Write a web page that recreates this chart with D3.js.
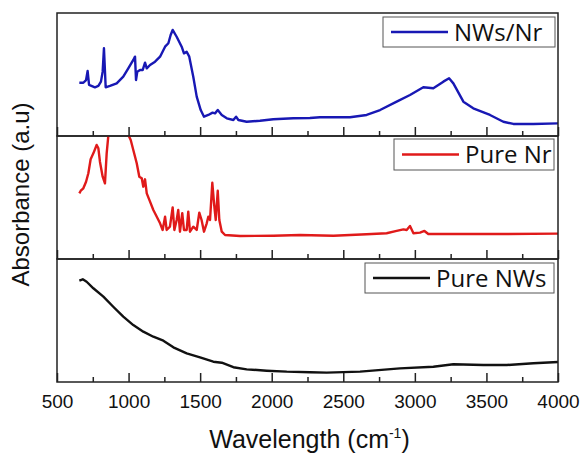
<!DOCTYPE html>
<html>
<head>
<meta charset="utf-8">
<script src="https://cdn.jsdelivr.net/npm/d3@7"></script>
<style>
body { margin: 0; background: #fff; }
text { font-family: "Liberation Sans", Arial, sans-serif; fill: #111; }
</style>
</head>
<body>
<div id="chart"></div>
<script>
// wavenumber (cm-1) / absorbance (arbitrary units, 0 = panel bottom, 100 = panel top)
var nwsNrWave = [656, 684, 703, 714, 724, 765, 789, 807, 819, 828, 840, 870, 917, 963, 998, 1033, 1045, 1052, 1061, 1080, 1099, 1115, 1127, 1150, 1185, 1220, 1255, 1278, 1294, 1308, 1336, 1371, 1387, 1406, 1424, 1452, 1476, 1504, 1527, 1557, 1587, 1604, 1623, 1651, 1686, 1732, 1751, 1767, 1825, 1918, 2011, 2151, 2267, 2337, 2547, 2663, 2757, 2873, 2966, 3059, 3129, 3199, 3239, 3269, 3339, 3408, 3525, 3618, 3688, 3828, 4000];
var nwsNrAbs = [43.3, 43.3, 45.5, 52.8, 41.5, 39.6, 40.7, 44.2, 52.3, 71.3, 39.6, 40.7, 42.8, 48.2, 55, 61.8, 64.5, 45.5, 52.3, 53.7, 53.7, 59.6, 55, 57.7, 60.4, 64.5, 72.6, 75.4, 82.1, 86.2, 80.7, 72.6, 67.2, 68.5, 64.5, 48.2, 32, 21.1, 15.7, 17.1, 19, 18.4, 21.1, 17.1, 14.4, 13, 15.7, 13, 11.6, 12.4, 13.6, 14.4, 14.6, 15.2, 15.2, 17.1, 21.1, 27.9, 33.3, 39.6, 38.8, 44.2, 46.9, 42.8, 27.9, 22.5, 17.1, 11.6, 9.8, 9.8, 10.3];

var pureNrWave = [656, 666, 684, 703, 719, 735, 754, 777, 789, 800, 819, 835, 847, 859, 900, 960, 998, 1015, 1033, 1057, 1075, 1092, 1103, 1115, 1127, 1150, 1173, 1197, 1220, 1238, 1255, 1266, 1289, 1308, 1320, 1336, 1347, 1359, 1375, 1387, 1406, 1417, 1429, 1452, 1476, 1494, 1510, 1527, 1546, 1557, 1569, 1585, 1597, 1609, 1623, 1634, 1651, 1674, 1779, 2011, 2198, 2431, 2663, 2803, 2873, 2920, 2943, 2966, 2990, 3036, 3067, 3094, 3246, 3595, 4000];
var pureNrAbs = [53.4, 55.5, 57.5, 62.8, 69.7, 81.1, 85.9, 92.7, 90, 79.1, 66.9, 61.5, 85.9, 100.8, 130, 130, 101, 96.7, 88.6, 77.8, 66.9, 65.6, 58.8, 64.8, 53.4, 46.6, 39.8, 34.4, 29, 23.6, 34.4, 23.6, 26.3, 42, 23.6, 31.7, 39.8, 22.2, 37.2, 23.6, 23.6, 38.5, 22.2, 26.3, 23.6, 37.7, 31.7, 22.2, 29, 34.4, 31.7, 62, 45.3, 31.7, 55.5, 31.7, 22.2, 19.5, 18.7, 18.9, 19.5, 18.9, 20.1, 20.9, 22.8, 24.1, 23.6, 26.8, 20.9, 21.4, 22.8, 20.3, 20.3, 20.3, 20.6];

var pureNwsWave = [656, 680, 707, 754, 824, 893, 963, 1033, 1103, 1173, 1243, 1313, 1406, 1499, 1592, 1651, 1732, 1825, 1965, 2105, 2268, 2384, 2617, 2896, 3129, 3269, 3478, 3642, 3828, 4000];
var pureNwsAbs = [82.4, 83.5, 81.5, 76.2, 69.4, 61.2, 53.1, 46.3, 40.9, 36.8, 33.6, 28.2, 23.3, 20.1, 16.5, 15.7, 12, 10.3, 9.2, 8.4, 7.9, 7.6, 8.4, 11.1, 12.4, 14.4, 13.8, 13.8, 15.2, 16.3];

var seriesNames = ["NWs/Nr", "Pure Nr", "Pure NWs"];
var seriesColors = ["#1818b4", "#e01a1a", "#111111"];
var majorTicks = [500, 1000, 1500, 2000, 2500, 3000, 3500, 4000];
var minorTicks = [750, 1250, 1750, 2250, 2750, 3250, 3750];

function drawChart() {
	const W = 583, H = 458;
	const left = 57, right = 558, plotTop = 13, panelH = 123;

	const svg = d3.select("#chart").append("svg")
		.attr("width", W)
		.attr("height", H);

	const x = d3.scaleLinear().domain([500, 4000]).range([left, right]);

	const panels = [
		{ wave: nwsNrWave, abs: nwsNrAbs, legend: [383, 17, 172, 30] },
		{ wave: pureNrWave, abs: pureNrAbs, legend: [394, 139, 160, 31] },
		{ wave: pureNwsWave, abs: pureNwsAbs, legend: [365, 263, 189, 30] }
	];

	panels.forEach(function (p, i) {
		const y0 = plotTop + i * panelH;
		const y = d3.scaleLinear().domain([0, 100]).range([y0 + panelH, y0]);
		const data = p.wave.map((w, j) => ({ w: w, a: p.abs[j] }));

		svg.append("clipPath").attr("id", "clip" + i)
			.append("rect")
			.attr("x", left).attr("y", y0)
			.attr("width", right - left).attr("height", panelH);

		const line = d3.line()
			.x(d => x(d.w))
			.y(d => y(d.a));

		svg.append("path")
			.datum(data)
			.attr("clip-path", "url(#clip" + i + ")")
			.attr("d", line)
			.style("fill", "none")
			.style("stroke", seriesColors[i])
			.style("stroke-width", 2.4)
			.style("stroke-linejoin", "round");

		// inward ticks along each panel's bottom edge
		const gMaj = svg.append("g")
			.attr("transform", "translate(0," + (y0 + panelH) + ")")
			.call(d3.axisBottom(x).tickValues(majorTicks).tickSize(-9).tickFormat(""));
		const gMin = svg.append("g")
			.attr("transform", "translate(0," + (y0 + panelH) + ")")
			.call(d3.axisBottom(x).tickValues(minorTicks).tickSize(-5).tickFormat(""));
		[gMaj, gMin].forEach(function (g) {
			g.select(".domain").remove();
			g.selectAll("line").attr("stroke", "#222").attr("stroke-width", 1.5);
		});

		svg.append("rect")
			.attr("x", left).attr("y", y0)
			.attr("width", right - left).attr("height", panelH)
			.attr("fill", "none")
			.attr("stroke", "#222")
			.attr("stroke-width", 1.5);

		// legend
		const lg = p.legend;
		svg.append("rect")
			.attr("x", lg[0]).attr("y", lg[1])
			.attr("width", lg[2]).attr("height", lg[3])
			.attr("fill", "#fff")
			.attr("stroke", "#555")
			.attr("stroke-width", 1);
		const ly = lg[1] + lg[3] / 2;
		svg.append("line")
			.attr("x1", lg[0] + 8).attr("x2", lg[0] + 65)
			.attr("y1", ly).attr("y2", ly)
			.attr("stroke", seriesColors[i])
			.attr("stroke-width", 2.4);
		svg.append("text")
			.attr("x", lg[0] + 71).attr("y", ly + 8.5)
			.style("font-family", "'Open Sans', sans-serif")
			.style("font-size", "24px")
			.text(seriesNames[i]);
	});

	// tick labels
	const gLab = svg.append("g")
		.attr("transform", "translate(0," + (plotTop + 3 * panelH) + ")")
		.call(d3.axisBottom(x).tickValues(majorTicks).tickSize(0).tickPadding(13).tickFormat(d3.format("d")));
	gLab.select(".domain").remove();
	gLab.selectAll("text")
		.style("font-size", "19px")
		.style("font-family", "'Liberation Sans', Arial, sans-serif")
		.attr("fill", "#111");

	// axis titles
	const xt = svg.append("text")
		.attr("x", (left + right) / 2 + 2)
		.attr("y", 448)
		.attr("text-anchor", "middle")
		.style("font-size", "25px");
	xt.append("tspan").text("Wavelength (cm");
	xt.append("tspan").attr("dy", -10).style("font-size", "14px").text("-1");
	xt.append("tspan").attr("dy", 10).text(")");

	svg.append("text")
		.attr("transform", "translate(29," + (plotTop + 1.5 * panelH - 3) + ") rotate(-90)")
		.attr("text-anchor", "middle")
		.style("font-size", "24px")
		.text("Absorbance (a.u)");
}

drawChart();
</script>
</body>
</html>
